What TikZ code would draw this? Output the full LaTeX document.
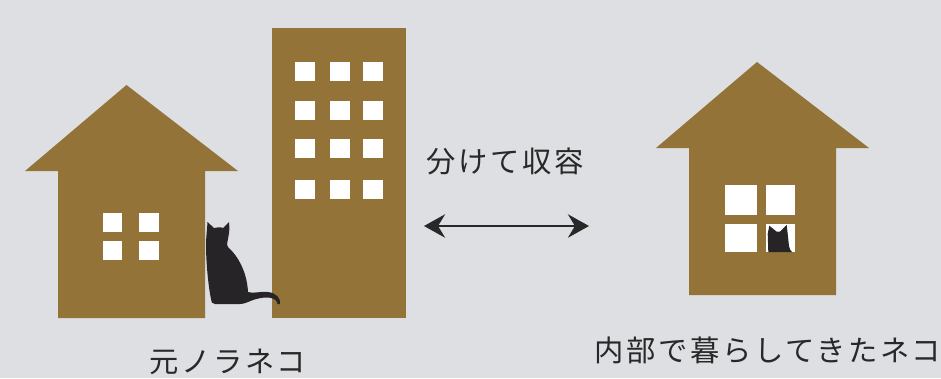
\documentclass[tikz,border=0pt]{standalone}
\usepackage{fontspec}
\usetikzlibrary{arrows.meta}
\newfontfamily\jpfont[LetterSpace=9]{Noto Sans CJK JP}
\definecolor{housebrown}{RGB}{147,115,55}
\definecolor{skygray}{RGB}{221,223,226}
\definecolor{catblack}{RGB}{38,36,38}
\definecolor{inkgray}{RGB}{40,40,40}
\tikzset{
	label/.style={inner sep=0pt, text=inkgray, font=\jpfont\fontsize{25pt}{25pt}\selectfont},
	house/.style={fill=housebrown},
	pane/.style={fill=white},
	cat/.style={fill=catblack}
}
\begin{document}
\begin{tikzpicture}[x=0.3mm, y=-0.3mm]
		% Define background
		\fill[skygray] (0,0) rectangle (941,378);
		\useasboundingbox (0,0) rectangle (941,378);

		% Left house and tower
		\fill[house] (25,171) -- (126.5,85) -- (238,171) -- (205,171) -- (205,318) -- (58,318) -- (58,171) -- cycle;
		\fill[house] (272,28) rectangle (406,318);
		\foreach \wx in {102.5,139}
			\foreach \wy in {213,241}
				\fill[pane] (\wx,\wy) rectangle ++(19.5,19);
		\foreach \wx in {295,330,363}
			\foreach \wy in {62,101,139,180}
				\fill[pane] (\wx,\wy) rectangle ++(19.5,19);

		% Cat between the buildings
		\fill[cat] (207.5,222) -- (214,228)
			.. controls (217,227) and (221,227) .. (223,228) -- (229,222)
			.. controls (229.5,228) and (229.5,232) .. (228.5,236)
			.. controls (228,241) and (226,244) .. (228,247)
			.. controls (238,256) and (247,272) .. (248,292)
			.. controls (253,294) and (261,291) .. (268,292)
			.. controls (276,293) and (281,298) .. (280,304)
			.. controls (278.5,305.5) and (277,304) .. (276.5,301)
			.. controls (272,296) and (262,297) .. (253,300)
			.. controls (248,302) and (244,304) .. (240,304)
			-- (215,304)
			.. controls (212,304) and (211,302) .. (211,299)
			.. controls (208,285) and (206,260) .. (206,245)
			.. controls (206,238) and (207,230) .. (207.5,222) -- cycle;

		% Right house
		\fill[house] (656,148) -- (757,62) -- (869,148) -- (836,148) -- (836,295) -- (689,295) -- (689,148) -- cycle;
		\fill[pane] (725,185) rectangle (756.5,215);
		\fill[pane] (765.5,185) rectangle (794.5,215);
		\fill[pane] (725,223.5) rectangle (756.5,251.5);
		\fill[pane] (765.5,223.5) rectangle (794.5,251.5);
		\fill[cat] (768.3,252) -- (767.7,234) -- (769.3,225.7) -- (776.7,231.7)
			-- (780,231.5) -- (786.7,225) -- (788,236.7) -- (789,246)
			.. controls (789.5,249) and (790.5,251) .. (792,252) -- cycle;

		% Arrow and labels
		\coordinate (ArrowLeft) at (424,226);
		\coordinate (ArrowRight) at (589,226);
		\draw[inkgray, line width=1.8pt, {Stealth[length=18pt, width=20pt, inset=6pt]}-{Stealth[length=18pt, width=20pt, inset=6pt]}] (ArrowLeft) -- (ArrowRight);

		\node[label] (Split) at (505,161.5) {分けて収容};
		\node[label] (Stray) at (228,361.5) {元ノラネコ};
		\node[label] (Indoor) at (768,350.5) {内部で暮らしてきたネコ};
	\end{tikzpicture}
\end{document}
